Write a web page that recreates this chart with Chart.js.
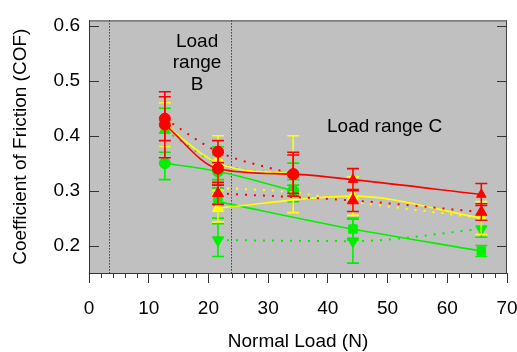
<!DOCTYPE html>
<html><head><meta charset="utf-8">
<script src="https://cdn.jsdelivr.net/npm/chart.js@4"></script>
<style>html,body{margin:0;padding:0;background:#fff;}#wrap{width:517px;height:352px;position:relative;}</style>
</head><body><div id="wrap"><canvas id="c"></canvas></div>
<script>
// ---- data ----
const loads = [12.7, 21.6, 34.2, 44.2, 65.7];
const xTicks = [0, 10, 20, 30, 40, 50, 60, 70];
const xMinorTicks = [2,4,6,8,12,14,16,18,22,24,26,28,32,34,36,38,42,44,46,48,52,54,56,58,62,64,66,68];
const yTicks = [0.2, 0.3, 0.4, 0.5, 0.6];
const rangeBounds = [3.4, 23.7];
const rangeLabels = ['Load', 'range', 'B', 'Load range C'];

const redSolid    = [0.42, 0.34, 0.33, 0.32, 0.293];
const redSolidErr = [0.06, 0.03, 0.035, 0.02, 0.02];
const redDotA     = [0.431, 0.371, 0.33, null, null];
const redDotAErr  = [0.04, 0.02, 0.04, null, null];
const redDotB     = [null, 0.295, null, 0.282, 0.261];
const redDotBErr  = [null, 0.02, null, 0.02, 0.015];

const yelSolidA    = [0.42, 0.35, 0.33, null, null];
const yelSolidAErr = [0.04, 0.05, 0.07, null, null];
const yelSolidB    = [null, 0.268, null, 0.29, 0.25];
const yelSolidBErr = [null, 0.025, null, 0.035, 0.03];
const yelDot       = [null, 0.305, 0.297, 0.28, 0.25];

const grnSolidA    = [0.35, 0.335, 0.30, null, null];
const grnSolidAErr = [0.03, 0.03, 0.02, null, null];
const grnSolidB    = [null, 0.28, null, 0.23, 0.19];
const grnSolidBErr = [null, 0.03, null, 0.02, 0.01];
const grnDotA      = [0.41, 0.35, 0.33, null, null];
const grnDotAErr   = [0.04, 0.03, 0.02, null, null];
const grnDotB      = [null, 0.21, null, 0.208, 0.23];
const grnDotBErr   = [null, 0.03, null, 0.04, 0.015];

const RED = '#ff0000', YEL = '#ffff00', GRN = '#00f000';

function pts(vals, errs) {
  return loads.map((x, i) => ({x: x, y: vals[i], e: errs ? errs[i] : null})).filter(p => p.y !== null);
}
function series(label, vals, errs, color, dotted, style, radius, rot) {
  const data = pts(vals, errs);
  const st = Array.isArray(style) ? style.filter((s, i) => vals[i] !== null) : style;
  return {
    label, data, errColor: color,
    borderColor: color, backgroundColor: color,
    borderWidth: dotted ? 2 : 1.6,
    borderDash: dotted ? [2, 7] : [],
    cubicInterpolationMode: 'monotone',
    pointStyle: st, pointRadius: radius, pointBorderWidth: 1,
    pointBorderColor: color, pointBackgroundColor: color,
    pointRotation: rot || 0,
    showLine: true, fill: false
  };
}

const datasets = [
  series('redSolid', redSolid, redSolidErr, RED, false, ['circle','circle','circle','triangle','triangle'], 5.5),
  series('redDotA', redDotA, redDotAErr, RED, true, 'circle', 5.5),
  series('redDotB', redDotB, redDotBErr, RED, true, 'triangle', 6.5),
  series('yelSolidA', yelSolidA, yelSolidAErr, YEL, false, 'circle', 5.5),
  series('yelSolidB', yelSolidB, yelSolidBErr, YEL, false, 'triangle', 6.5),
  series('yelDot', yelDot, null, YEL, true, 'circle', 0),
  series('grnSolidA', grnSolidA, grnSolidAErr, GRN, false, 'circle', 5.5),
  series('grnSolidB', grnSolidB, grnSolidBErr, GRN, false, 'rect', 6),
  series('grnDotA', grnDotA, grnDotAErr, GRN, true, 'triangle', 6.5),
  series('grnDotB', grnDotB, grnDotBErr, GRN, true, 'triangle', 6.5, 180)
];

const FONT = "'Liberation Sans', Arial, sans-serif";
Chart.defaults.font.family = FONT;
Chart.defaults.color = '#000';

const decor = {
  id: 'decor',
  beforeDraw(chart) {
    const {ctx, chartArea: a} = chart;
    ctx.save();
    ctx.fillStyle = '#c0c0c0';
    ctx.fillRect(a.left, a.top, a.right - a.left, a.bottom - a.top);
    ctx.restore();
  },
  beforeDatasetsDraw(chart) {
    const {ctx, chartArea: a, scales: {x, y}} = chart;
    ctx.save();
    ctx.strokeStyle = '#000'; ctx.lineWidth = 1; ctx.setLineDash([1, 2]);
    rangeBounds.forEach(v => {
      const px = Math.round(x.getPixelForValue(v)) + 0.5;
      ctx.beginPath(); ctx.moveTo(px, a.top); ctx.lineTo(px, a.bottom); ctx.stroke();
    });
    ctx.setLineDash([]);
    ctx.fillStyle = '#000'; ctx.font = '19px ' + FONT;
    ctx.textAlign = 'center'; ctx.textBaseline = 'middle';
    ctx.fillText(rangeLabels[0], x.getPixelForValue(18.1), y.getPixelForValue(0.571));
    ctx.fillText(rangeLabels[1], x.getPixelForValue(18.1), y.getPixelForValue(0.532));
    ctx.fillText(rangeLabels[2], x.getPixelForValue(18.1), y.getPixelForValue(0.493));
    ctx.fillText(rangeLabels[3], x.getPixelForValue(49.5), y.getPixelForValue(0.416));
    ctx.restore();
  },
  beforeDatasetDraw(chart, args) {
    const ds = chart.data.datasets[args.index];
    const {ctx, scales: {x, y}} = chart;
    ctx.save();
    ctx.strokeStyle = ds.errColor; ctx.lineWidth = 1.6;
    ds.data.forEach(p => {
      if (p.e === null || p.e === undefined) return;
      const px = x.getPixelForValue(p.x);
      const t = y.getPixelForValue(p.y + p.e), b = y.getPixelForValue(p.y - p.e);
      ctx.beginPath();
      ctx.moveTo(px, t); ctx.lineTo(px, b);
      ctx.moveTo(px - 6, t); ctx.lineTo(px + 6, t);
      ctx.moveTo(px - 6, b); ctx.lineTo(px + 6, b);
      ctx.stroke();
    });
    ctx.restore();
  },
  afterDraw(chart) {
    const {ctx, chartArea: a, scales: {x, y}} = chart;
    ctx.save();
    ctx.strokeStyle = '#444'; ctx.lineWidth = 1;
    ctx.beginPath();
    ctx.moveTo(a.left, a.top + 0.5); ctx.lineTo(a.right, a.top + 0.5);
    ctx.moveTo(a.right - 0.5, a.top); ctx.lineTo(a.right - 0.5, a.bottom);
    ctx.stroke();
    ctx.strokeStyle = '#333';
    ctx.beginPath();
    yTicks.forEach(v => {
      const py = Math.round(y.getPixelForValue(v)) + 0.5;
      ctx.moveTo(a.left, py); ctx.lineTo(a.left + 10, py);
      ctx.moveTo(a.right, py); ctx.lineTo(a.right - 10, py);
    });
    xMinorTicks.forEach(v => {
      const px = Math.round(x.getPixelForValue(v)) + 0.5;
      ctx.moveTo(px, a.bottom); ctx.lineTo(px, a.bottom + 5);
    });
    ctx.stroke();
    ctx.restore();
  }
};

new Chart(document.getElementById('c'), {
  type: 'line',
  data: {datasets},
  options: {
    responsive: true, maintainAspectRatio: false, animation: false,
    layout: {padding: {top: 12, right: 10, left: 0, bottom: 0}},
    plugins: {legend: {display: false}, tooltip: {enabled: false}},
    scales: {
      x: {
        type: 'linear', min: 0, max: 70,
        afterBuildTicks(s) { s.ticks = xTicks.map(v => ({value: v})); },
        ticks: {font: {size: 19}, color: '#000', padding: 14, maxRotation: 0},
        grid: {drawOnChartArea: false, drawTicks: true, tickLength: 10, tickColor: '#333', color: '#333'},
        border: {color: '#333', width: 1},
        title: {display: true, text: 'Normal Load (N)', font: {size: 19, lineHeight: 1}, color: '#000', padding: {top: 0, bottom: 1}},
        afterFit(s) { s.height = 79; s.paddingLeft = 0; s.paddingRight = 0; }
      },
      y: {
        type: 'linear', min: 0.15, max: 0.61,
        afterBuildTicks(s) { s.ticks = yTicks.map(v => ({value: v})); },
        ticks: {font: {size: 19}, color: '#000', padding: 9, callback: v => v.toFixed(1)},
        grid: {drawOnChartArea: false, drawTicks: false},
        border: {color: '#333', width: 1},
        title: {display: true, text: 'Coefficient of Friction (COF)', font: {size: 19, lineHeight: 1}, color: '#000', padding: {top: 11.5, bottom: 0}},
        afterFit(s) { s.width = 89; }
      }
    }
  },
  plugins: [decor]
});
</script></body></html>
